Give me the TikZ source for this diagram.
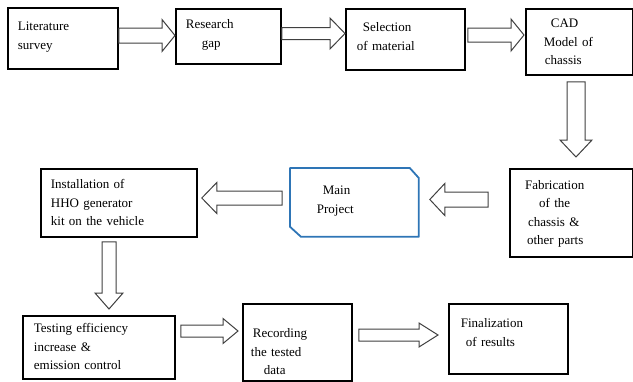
\documentclass[tikz,border=0pt]{standalone}
\usepackage{fontspec}
\setmainfont{Liberation Serif}
\usetikzlibrary{calc}

% hollow block arrow: #1 tail, #2 tip, #3 shaft half width, #4 head half width, #5 head length
\newcommand{\blockarrow}[5]{%
  \path #1 coordinate (ba-s) #2 coordinate (ba-t);
  \path ($(ba-t)!#5!(ba-s)$) coordinate (ba-h);
  \draw[hollow] ($(ba-s)!#3!90:(ba-t)$) -- ($(ba-h)!#3!90:(ba-t)$)
    -- ($(ba-h)!#4!90:(ba-t)$) -- (ba-t) -- ($(ba-h)!#4!-90:(ba-t)$)
    -- ($(ba-h)!#3!-90:(ba-t)$) -- ($(ba-s)!#3!-90:(ba-t)$) -- cycle;
}

\definecolor{projblue}{RGB}{46,117,182}

\begin{document}
\begin{tikzpicture}[x=1pt,y=-1pt,
  stage/.style={draw, line width=1.8pt, anchor=north west, align=left,
    inner ysep=0pt, font=\fontsize{13}{18.5}\selectfont},
  hollow/.style={draw=black!75, line width=1pt, fill=white, line join=miter},
  projline/.style={draw=projblue, line width=1.8pt, line join=round}]
\useasboundingbox (0,0) rectangle (633,381);
% top row
\node[stage, text width=90pt, inner xsep=10pt, text height=23pt, text depth=38pt] (lit) at (7,7) {Literature\\survey};
\node[stage, text width=85pt, inner xsep=10pt, text height=20pt, text depth=35pt] (res) at (175,8) {Research\\\hspace*{16pt}gap};
\node[stage, text width=97pt, inner xsep=11pt, text height=23pt, text depth=38pt] (sel) at (345,8) {\hspace*{6pt}Selection\\of material};
\node[stage, text width=71pt, inner xsep=18pt, text height=19pt, text depth=47pt] (cad) at (525,8) {\hspace*{7pt}CAD\\Model of\\\hspace*{1pt}chassis};
% middle row
\node[stage, line width=2.2pt, text width=93pt, inner xsep=15pt, text height=20pt, text depth=68pt] (fab) at (509,168) {Fabrication\\\hspace*{14pt}of the\\\hspace*{3pt}chassis \&\\\hspace*{2pt}other parts};
\node[stage, draw=none, text width=75pt, inner xsep=26pt, text height=26pt, text depth=41pt] (main) at (290,168) {\hspace*{6pt}Main\\Project};
\draw[projline] (main.north west) -- ($(main.north east)+(-9,0)$) -- ($(main.north east)+(0,10)$)
  -- (main.south east) -- ($(main.south west)+(11,0)$) -- ($(main.south west)+(0,-10)$) -- cycle;
\node[stage, text width=136pt, inner xsep=10pt, text height=20pt, text depth=48pt] (inst) at (40,168) {Installation of\\HHO generator\\kit on the vehicle};
% bottom row
\node[stage, text width=130pt, inner xsep=11pt, text height=17pt, text depth=46pt] (test) at (22,315) {Testing efficiency\\increase \&\\emission control};
\node[stage, text width=93pt, inner xsep=8pt, text height=34pt, text depth=43pt] (rec) at (242,303) {\hspace*{2pt}Recording\\the tested\\\hspace*{13pt}data};
\node[stage, text width=95pt, inner xsep=12pt, text height=24pt, text depth=46pt] (fin) at (448,303) {Finalization\\\hspace*{5pt}of results};
% arrows
\blockarrow{(lit.east |- 0,35.5)}{(res.west |- 0,35.5)}{7.5pt}{16pt}{13pt}
\blockarrow{(res.east |- 0,33.5)}{(sel.west |- 0,33.5)}{6pt}{15.5pt}{15pt}
\blockarrow{($(sel.east |- 0,35)+(2,0)$)}{($(cad.west |- 0,35)+(-1,0)$)}{7pt}{16pt}{13pt}
\blockarrow{($(cad.south -| 576,0)+(0,6)$)}{($(fab.north -| 576,0)+(0,-11)$)}{9pt}{16pt}{17pt}
\blockarrow{($(fab.west |- 0,199.5)+(-21,0)$)}{($(main.east |- 0,199.5)+(11,0)$)}{7.5pt}{16pt}{15pt}
\blockarrow{($(main.west |- 0,198)+(-8,0)$)}{($(inst.east |- 0,198)+(4,0)$)}{7pt}{15.5pt}{15pt}
\blockarrow{($(inst.south -| 109,0)+(0,4)$)}{($(test.north -| 109,0)+(0,-6)$)}{7pt}{14pt}{16pt}
\blockarrow{($(test.east |- 0,331)+(5,0)$)}{($(rec.west |- 0,331)+(-4,0)$)}{6pt}{12.5pt}{15pt}
\blockarrow{($(rec.east |- 0,335)+(6,0)$)}{($(fin.west |- 0,335)+(-10,0)$)}{6pt}{12pt}{19pt}
\end{tikzpicture}
\end{document}
